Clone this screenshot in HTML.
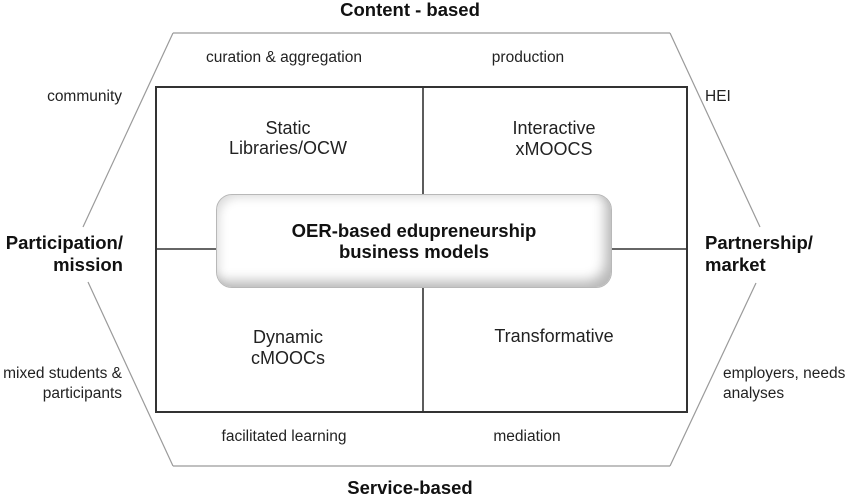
<!DOCTYPE html>
<html><head><meta charset="utf-8"><style>
html,body{margin:0;padding:0;background:#fff;}
#wrap{position:relative;width:850px;height:496px;overflow:hidden;background:#fff;}
svg{position:absolute;left:0;top:0;}
.box{position:absolute;left:216px;top:194px;width:396px;height:94px;box-sizing:border-box;border-radius:16px;background:#fff;border:1px solid #b8b8b8;
box-shadow: inset -10px -10px 12px -4px rgba(0,0,0,0.28), inset 6px 6px 10px -4px rgba(0,0,0,0.15);}
</style></head><body><div id="wrap">
<svg width="850" height="496" viewBox="0 0 850 496" xmlns="http://www.w3.org/2000/svg">
<g stroke="#9a9a9a" stroke-width="1.2" fill="none">
<line x1="173" y1="33" x2="670" y2="33"/>
<line x1="173" y1="33" x2="83" y2="227"/>
<line x1="88" y1="282" x2="173" y2="466"/>
<line x1="173" y1="466" x2="670" y2="466"/>
<line x1="670" y1="33" x2="760" y2="227"/>
<line x1="670" y1="466" x2="756" y2="283"/>
</g>
<rect x="156" y="87" width="531" height="325" fill="none" stroke="#333" stroke-width="2"/>
<g stroke="#333" stroke-width="1.6">
<line x1="423" y1="87" x2="423" y2="412"/>
<line x1="156" y1="249" x2="687" y2="249"/>
</g>
</svg>
<div class="box"></div>
<svg width="850" height="496" viewBox="0 0 850 496" xmlns="http://www.w3.org/2000/svg" style="font-family:'Liberation Sans',Arial,sans-serif;">
<g font-weight="bold" font-size="18.5" fill="#111">
<text x="410" y="16" text-anchor="middle">Content - based</text>
<text x="410" y="494" text-anchor="middle">Service-based</text>
<text x="123" y="249" text-anchor="end">Participation/</text>
<text x="123" y="271" text-anchor="end">mission</text>
<text x="705" y="249">Partnership/</text>
<text x="705" y="271">market</text>
<text x="414" y="237" text-anchor="middle">OER-based edupreneurship</text>
<text x="414" y="258" text-anchor="middle">business models</text>
</g>
<g font-size="18" fill="#222" text-anchor="middle">
<text x="288" y="134">Static</text>
<text x="288" y="154">Libraries/OCW</text>
<text x="554" y="134">Interactive</text>
<text x="554" y="155">xMOOCS</text>
<text x="288" y="343">Dynamic</text>
<text x="288" y="364">cMOOCs</text>
<text x="554" y="342">Transformative</text>
</g>
<g font-size="15.5" fill="#222">
<text x="284" y="62" text-anchor="middle">curation &amp; aggregation</text>
<text x="528" y="62" text-anchor="middle">production</text>
<text x="284" y="441" text-anchor="middle">facilitated learning</text>
<text x="527" y="441" text-anchor="middle">mediation</text>
<text x="122" y="101" text-anchor="end">community</text>
<text x="705" y="101">HEI</text>
<text x="122" y="378" text-anchor="end">mixed students &amp;</text>
<text x="122" y="398" text-anchor="end">participants</text>
<text x="723" y="378">employers, needs</text>
<text x="723" y="398">analyses</text>
</g>
</svg>
</div></body></html>
